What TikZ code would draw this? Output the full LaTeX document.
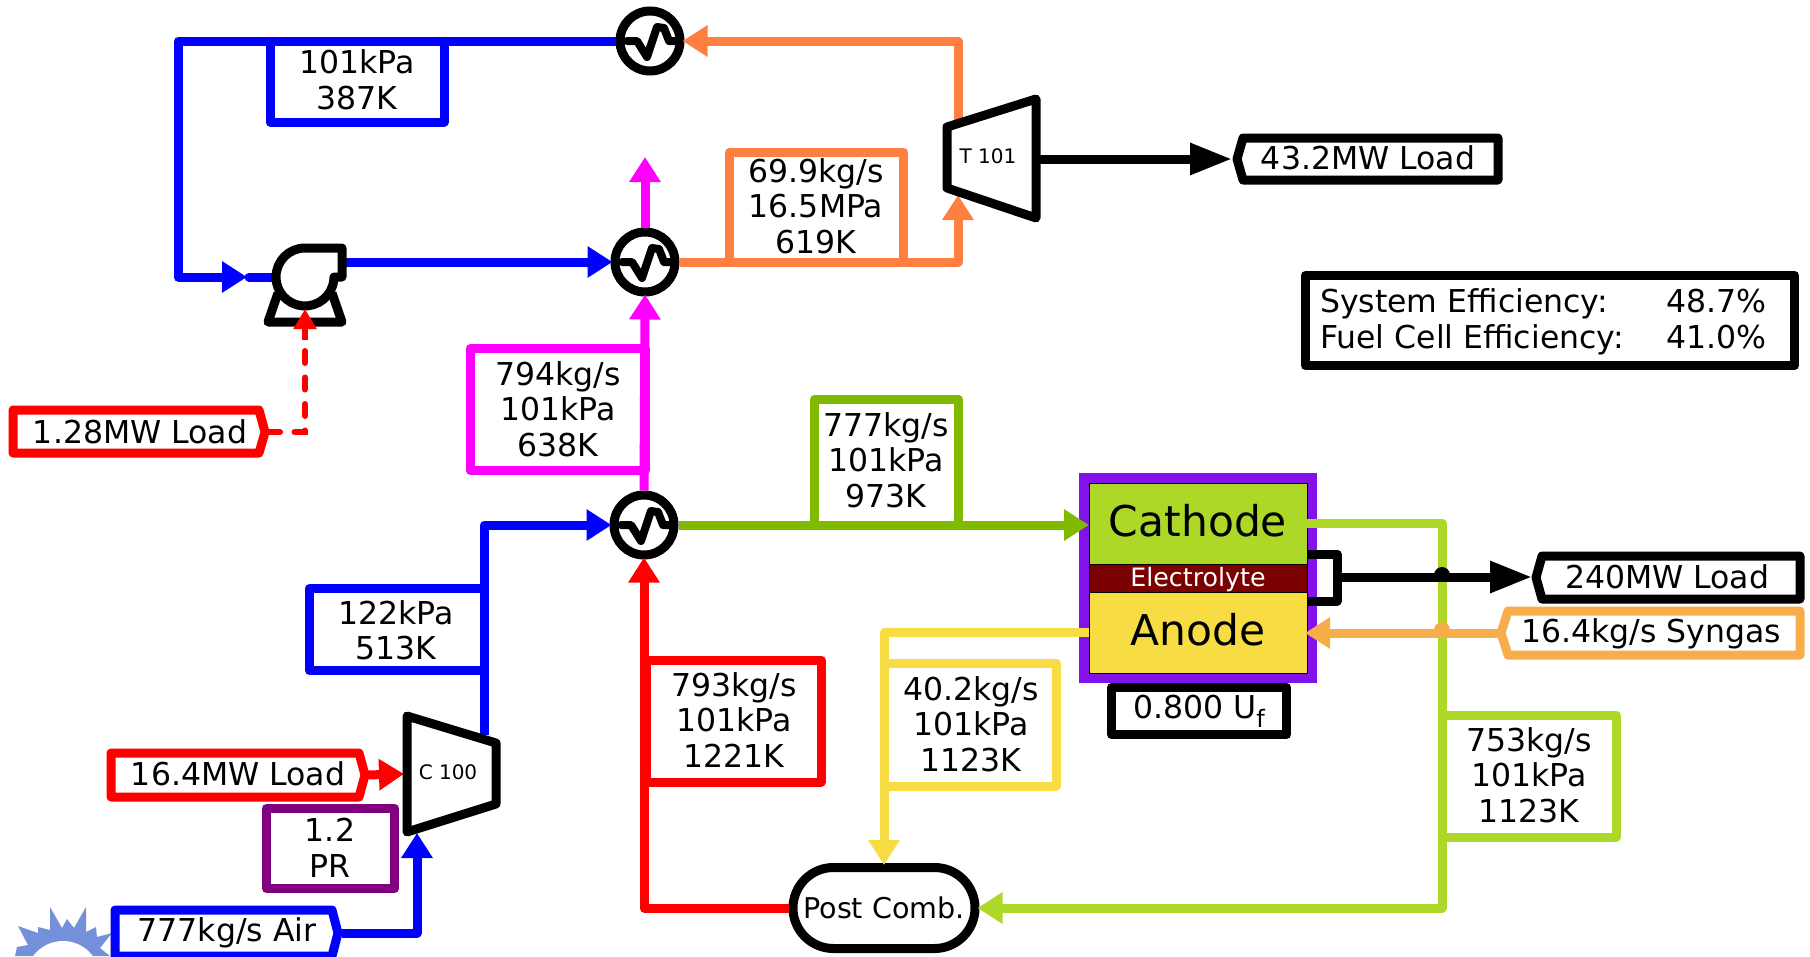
\documentclass[tikz,border=0pt]{standalone}
\usepackage{fontspec}
\setmainfont{DejaVu Sans}
\usetikzlibrary{arrows.meta,shapes.misc,calc}
\definecolor{cBlue}{HTML}{0000FF}
\definecolor{cRed}{HTML}{FF0000}
\definecolor{cMag}{HTML}{FF00FF}
\definecolor{cOrg}{HTML}{FF7F41}
\definecolor{cGrn}{HTML}{7FBA00}
\definecolor{cLime}{HTML}{ADD827}
\definecolor{cYel}{HTML}{F8DC43}
\definecolor{cSyn}{HTML}{F7AE4A}
\definecolor{cPur}{HTML}{800080}
\definecolor{cCell}{HTML}{8211EA}
\definecolor{cElec}{HTML}{7B0000}
\definecolor{cSun}{HTML}{7590DB}
\tikzset{
  x=1pt,y=-1pt,
  pipe/.style={line width=9pt,line join=round,draw=#1},
  flow/.style={pipe=#1,shorten >=-2pt,-{Triangle[length=25pt,width=30pt]}},
  power/.style={pipe=black,shorten >=-2pt,-{Triangle[length=42pt,width=30pt]}},
  labelbox/.style={draw=#1,line width=9pt,line join=round,fill=white,align=center,
    inner sep=0pt,font=\fontsize{31.5}{35.5}\selectfont},
  plain/.style={inner sep=0pt,align=center,font=\fontsize{31.5}{35.5}\selectfont},
  hxnode/.style={circle,draw=black,line width=9pt,fill=white,minimum size=60pt,inner sep=0pt},
  unitlabel/.style={inner sep=0pt,font=\fontsize{20}{22}\selectfont},
  unit/.style={draw=black,line width=9pt,line join=round,fill=white},
  wave/.style={draw=black,line width=8pt,line join=round,line cap=round}
}
\newcommand{\hxwave}[1]{\draw[wave] ($(#1)+(-23,0)$) -- ++(10,0) -- ++(10,16) -- ++(10,-30) -- ++(7,1) -- ++(5,13) -- ++(7,0);}
\begin{document}
\begin{tikzpicture}
\useasboundingbox (0,0) rectangle (1810,956);

% sun
\fill[cSun] (15,956) -- (17,947) -- (28,945) -- (18,926) -- (38,933) -- (38,927) -- (50,930) -- (50,907) -- (62,928) -- (67,919) -- (74,928) -- (86,907) -- (86,932) -- (96,927) -- (97,937) -- (112,933) -- (100,948) -- (110,956) -- cycle;
\begin{scope}
\clip (0,0) rectangle (1810,956);
\fill[white] (63,978) circle (37pt);
\end{scope}

% value boxes
\node[labelbox=cBlue,minimum width=174pt,minimum height=81pt] (b1) at (357,81.5) {};
\node[plain] at (357,80) {101kPa\\387K};
\node[labelbox=cOrg,minimum width=174pt,minimum height=110pt] (b2) at (816.5,207) {};
\node[plain] at (816,206) {69.9kg/s\\16.5MPa\\619K};
\node[labelbox=cMag,minimum width=175pt,minimum height=122pt] (b3) at (557.5,409.5) {};
\node[plain] at (558,409) {794kg/s\\101kPa\\638K};
\node[labelbox=cGrn,minimum width=144pt,minimum height=126pt] (b4) at (886.5,462) {};
\node[plain] at (886,460) {777kg/s\\101kPa\\973K};
\node[labelbox=cBlue,minimum width=175pt,minimum height=82pt] (b5) at (397,629.5) {};
\node[plain] at (396,630) {122kPa\\513K};
\node[labelbox=cRed,minimum width=175pt,minimum height=122pt] (b6) at (733.5,721) {};
\node[plain] at (734,720) {793kg/s\\101kPa\\1221K};
\node[labelbox=cYel,minimum width=172pt,minimum height=123pt] (b7) at (970,724.5) {};
\node[plain] at (971,724) {40.2kg/s\\101kPa\\1123K};
\node[labelbox=cLime,minimum width=174pt,minimum height=122pt] (b8) at (1529,776) {};
\node[plain] at (1529,775) {753kg/s\\101kPa\\1123K};
\node[labelbox=cPur,minimum width=128pt,minimum height=80pt] (b9) at (330.5,848.5) {};
\node[plain] at (330,848) {1.2\\PR};
\node[labelbox=black,minimum width=175pt,minimum height=47pt] (uf) at (1199,711) {0.800 U\raisebox{-9pt}{\fontsize{24}{26}\selectfont f}};
\node[labelbox=black,minimum width=489pt,minimum height=90pt] (eff) at (1550,320.5) {};
\node[plain,anchor=west] (efftext) at (1320,323.5) {\begin{tabular}{@{}l@{}}\makebox[346pt][l]{System Efficiency:}48.7\%\\\makebox[346pt][l]{Fuel Cell Efficiency:}41.0\%\end{tabular}};

% fuel cell
\node[draw=none,fill=cCell,minimum width=238pt,minimum height=210pt,inner sep=0pt,outer sep=0pt] (cell) at (1198,578) {};
\node[draw=black,line width=.6pt,fill=cLime,minimum width=218pt,minimum height=81pt,inner sep=0pt,outer sep=0pt] (cath) at (1198,523.5) {};
\node[inner sep=0pt,font=\fontsize{42.4}{45}\selectfont] (cathtext) at (1198,521) {Cathode};
\node[draw=black,line width=.6pt,fill=cElec,minimum width=218pt,minimum height=28pt,inner sep=0pt,outer sep=0pt] (elec) at (1198,578) {};
\node[text=white,inner sep=0pt,font=\fontsize{25.3}{26}\selectfont] (electext) at (1198,579.5) {Electrolyte};
\node[draw=black,line width=.6pt,fill=cYel,minimum width=218pt,minimum height=81pt,inner sep=0pt,outer sep=0pt] (anod) at (1198,632.5) {};
\node[inner sep=0pt,font=\fontsize{42.4}{45}\selectfont] (anodtext) at (1198,630) {Anode};

% unit nodes
\node[hxnode] (hxt) at (650,41) {};
\node[hxnode] (hxm) at (645,262) {};
\node[hxnode] (hxl) at (644,525) {};
\node[draw=black,line width=9pt,fill=white,rounded rectangle,minimum width=182pt,minimum height=81pt,inner sep=0pt,font=\fontsize{28.6}{30}\selectfont] (pc) at (884,908) {Post Comb.};

% load nodes
\coordinate (l1tip) at (1230,159);
\coordinate (l2tip) at (1530,577);
\coordinate (l3tip) at (1498,633);
\coordinate (l4tip) at (268,432);
\coordinate (l5tip) at (367,775);
\coordinate (l6tip) at (342,933);

% connectors
\coordinate (tTop) at (958,128);
\coordinate (tBot) at (958,197);
\coordinate (tOut) at (1040,159);
\coordinate (cTop) at (484,735);
\coordinate (cBot) at (417,835);
\coordinate (cIn) at (402,774);
\coordinate (pIn) at (245,277);
\coordinate (pOut) at (342,262);
\coordinate (pBot) at (305,311);
\coordinate (magEnd) at (645,159);
\coordinate (bl) at (178,41);
\coordinate (cathIn) at (1087,525);

\draw[flow=cOrg] (tTop) -- (tTop |- hxt) -- (hxt.east);
\draw[flow=cOrg] (hxm.east) -| (tBot);
\draw[flow=cBlue] (hxt.west) -- (bl) -- (bl |- pIn) -- (pIn);
\draw[pipe=cBlue,line cap=round] (pIn) ++(4,0) -- ++(30,0);
\draw[flow=cBlue] (pOut) -- (hxm.west);
\draw[flow=cMag] (hxm.north) -- (magEnd);
\draw[flow=cMag] (hxl.north) -- (hxm.south);
\draw[flow=cBlue] (cTop) |- (hxl.west);
\draw[flow=cGrn] (hxl.east) -- (cathIn);
\draw[flow=cRed] (pc.west) -| (hxl.south);
\draw[flow=cLime] (cath.east) -| (1442,908) -- (pc.east);
\draw[flow=cYel] (anod.west) -| (pc.north);
\draw[power] (tOut) -- (l1tip);
\draw[flow=cBlue] (l6tip) -| (cBot);
\draw[flow=cRed] (l5tip) -- (cIn);
\draw[flow=cSyn] (l3tip) -- (anod.east |- l3tip);
\draw[line width=9pt,line join=round,black] (cath.east |- 0,554) -- (1337,554) -- (1337,601) -- (anod.east |- 0,601);
\draw[power] (1337,577) -- (l2tip);
\coordinate (hop1) at (1442,577);
\coordinate (hop2) at (1442,632);
\fill[black] ($(hop1)+(-8pt,2pt)$) arc (180:0:8pt) -- cycle;
\fill[cSyn] ($(hop2)+(-8pt,2pt)$) arc (180:0:8pt) -- cycle;

% hx symbols
\hxwave{hxt}
\hxwave{hxm}
\hxwave{hxl}

% pump
\draw[unit] (278,293) -- (268,322) -- (342,322) -- (332,293);
\draw[unit] (276,277) arc (180:90:29pt) -- (342,248) -- (342,277) -- (334,277) -- (333.8,280) arc (-6:-180:29pt) -- cycle;
\draw[line width=6pt,cRed,dash pattern=on 12pt off 14.5pt,line cap=round] (l4tip) -| (pBot);
\draw[cRed,line width=6pt,shorten >=-2pt,-{Triangle[length=20pt,width=22pt]}] (305,340) -- (pBot);

% turbine and compressor
\draw[unit] (947,127) -- (1036,99) -- (1036,218) -- (947,188) -- cycle;
\node[unitlabel] (tlab) at (988,156) {T 101};
\draw[unit] (407,716) -- (496,743) -- (496,804) -- (407,832) -- cycle;
\node[unitlabel] (clab) at (448,772) {C 100};

% load boxes
\draw[labelbox=black] (1243,138) -- (1498,138) -- (1498,180) -- (1243,180) -- (1237,159) -- cycle;
\node[plain] (l1) at (1368,158) {43.2MW Load};
\draw[labelbox=black] (1542,556) -- (1800,556) -- (1800,599) -- (1542,599) -- (1536,577.5) -- cycle;
\node[plain] (l2) at (1667,577) {240MW Load};
\draw[labelbox=cSyn] (1508,611) -- (1800,611) -- (1800,655) -- (1508,655) -- (1501,633) -- cycle;
\node[plain] (l3) at (1651,634) {16.4kg/s Syngas};
\draw[labelbox=cRed] (13,410) -- (259,410) -- (265,432) -- (259,453) -- (13,453) -- cycle;
\node[plain] (l4) at (140,432) {1.28MW Load};
\draw[labelbox=cRed] (111,753) -- (359,753) -- (365,775) -- (359,797) -- (111,797) -- cycle;
\node[plain] (l5) at (238,774) {16.4MW Load};
\draw[labelbox=cBlue] (115,910) -- (332,910) -- (338,933) -- (332,956) -- (115,956) -- cycle;
\node[plain] (l6) at (227,933) {777kg/s Air};
\end{tikzpicture}
\end{document}
